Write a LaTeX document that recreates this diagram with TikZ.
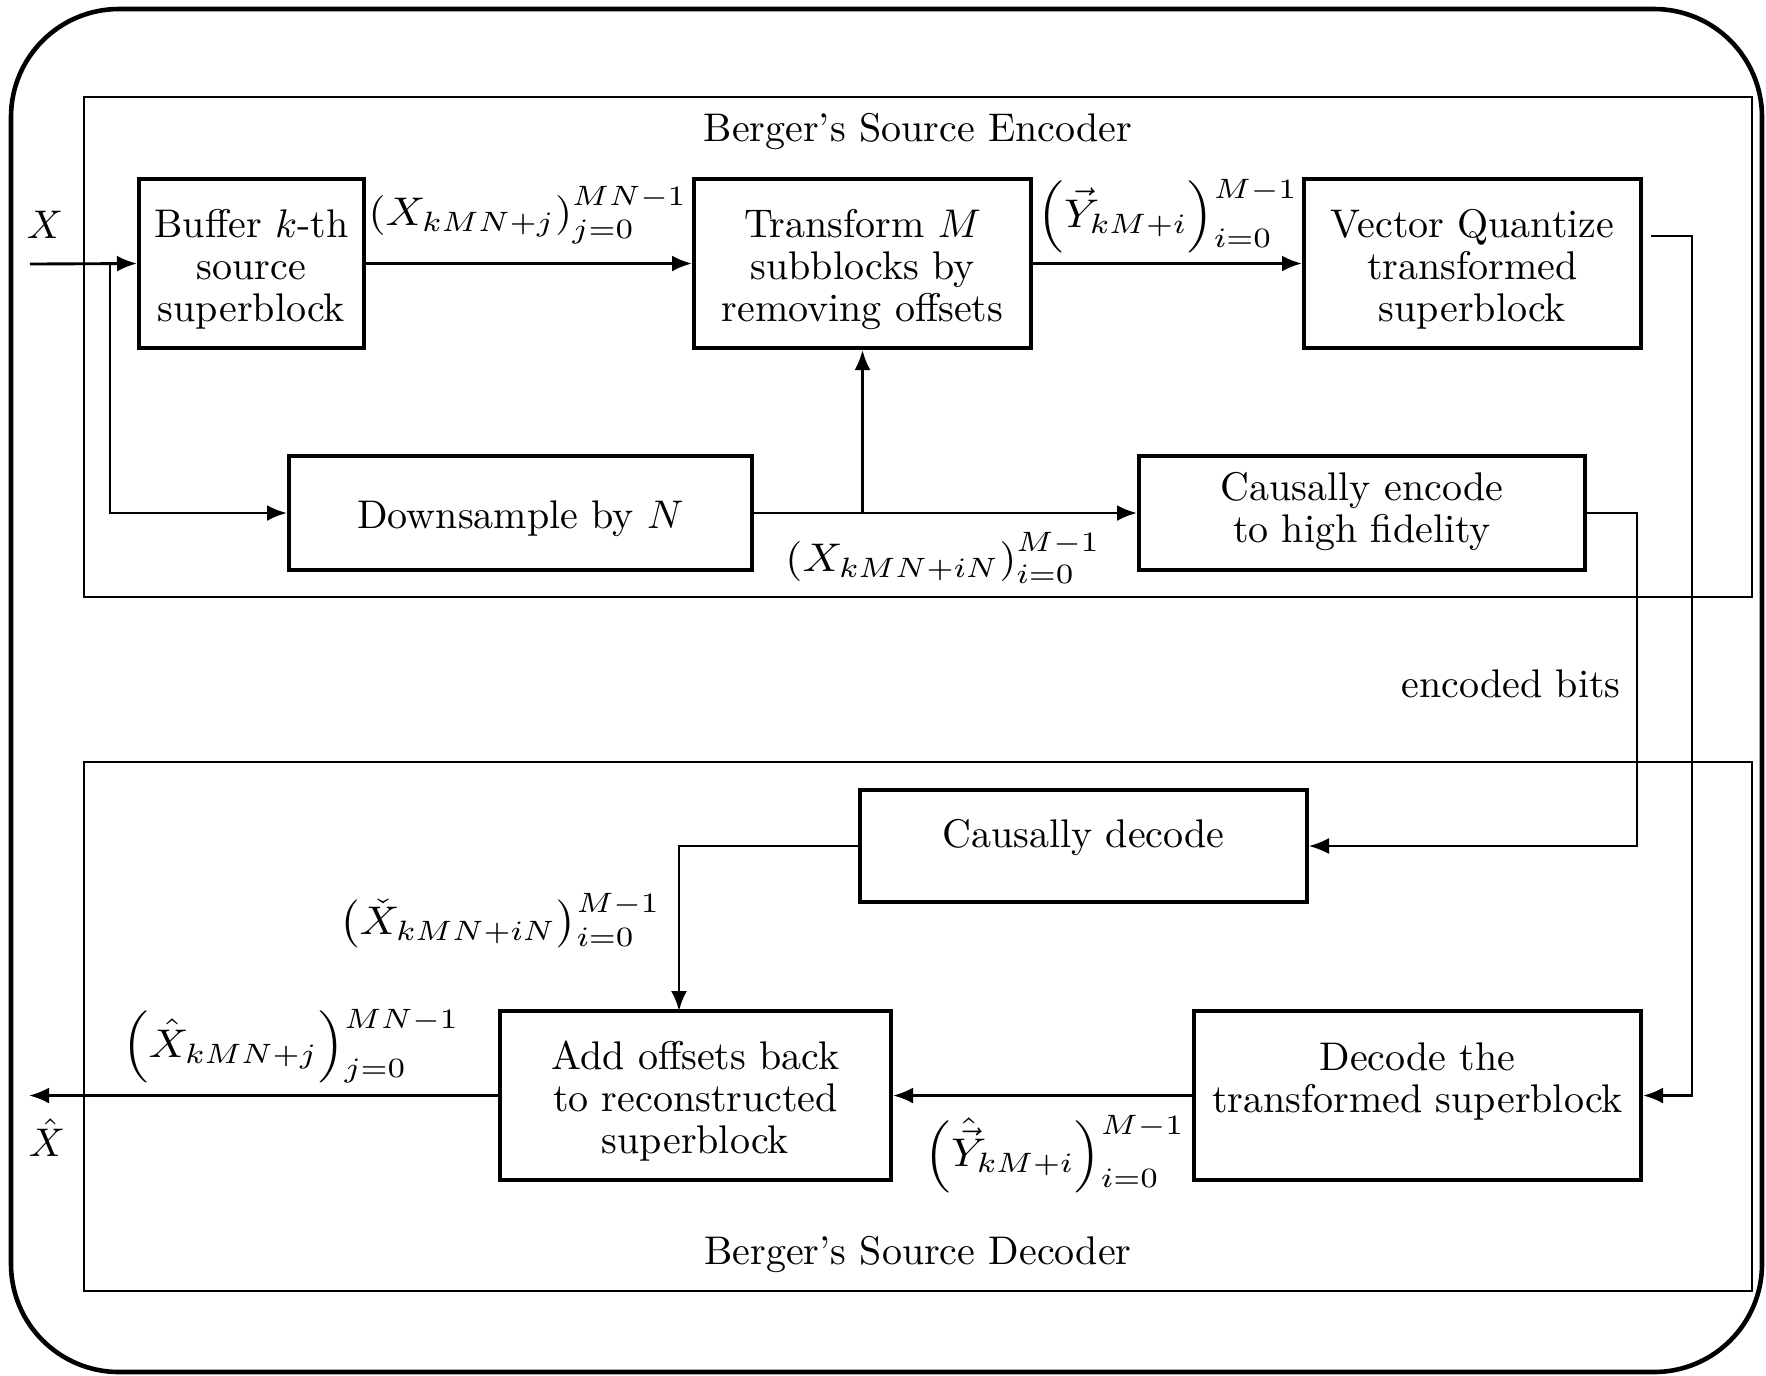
\documentclass[tikz,border=0pt]{standalone}
\usepackage{amsmath}
\usepackage{graphicx}
\usetikzlibrary{arrows.meta}
\newcommand\bxt[2]{\raisebox{#1}[\height][\depth]{\begin{tabular}{@{}c@{}}#2\end{tabular}}}
\newcommand\wlab[1]{\scalebox{1.1}[1]{#1}}
\begin{document}
\begin{tikzpicture}[x=0.25pt,y=-0.25pt,
  blk/.style={draw,line width=1pt,inner sep=0pt,font=\fontsize{10}{10.5}\selectfont},
  cont/.style={draw,line width=0.72pt,inner sep=0pt},
  frm/.style={draw,line width=1.15pt,rounded corners=27pt,inner sep=0pt},
  arr/.style={line width=0.72pt,-{Latex[length=5pt,width=4pt]}},
  thinarr/.style={line width=0.45pt,-{Latex[length=5pt,width=4pt]}},
  lab/.style={inner sep=0pt,font=\fontsize{10}{12}\selectfont}]
\useasboundingbox (0,0) rectangle (1766,1375);

% outer frame and containers
\node[frm,minimum width=437.75pt,minimum height=340.75pt] (frame) at (886.5,690.5) {};
\node[cont,minimum width=417pt,minimum height=125pt] (enc) at (918,347) {};
\node[cont,minimum width=417pt,minimum height=132.25pt] (dec) at (918,1026.5) {};
\node[lab] (enct) at (918,132) {Berger's Source Encoder};
\node[lab] (dect) at (918,1254) {Berger's Source Decoder};

% encoder blocks
\node[blk,minimum width=56.25pt,minimum height=42.25pt] (buf) at (251.5,263.5) {\bxt{-2pt}{Buffer $k$-th\\source\\superblock}};
\node[blk,minimum width=84.25pt,minimum height=42.25pt] (tr) at (862.5,263.5) {\bxt{-2pt}{Transform $M$\\subblocks by\\removing offsets}};
\node[blk,minimum width=84.25pt,minimum height=42.25pt] (vq) at (1472.5,263.5) {\bxt{-2pt}{Vector Quantize\\transformed\\superblock}};
\node[blk,minimum width=115.75pt,minimum height=28.5pt] (ds) at (520.5,513) {\bxt{-1.7pt}{Downsample by $N$}};
\node[blk,minimum width=111.5pt,minimum height=28.5pt] (ce) at (1362,513) {\bxt{0pt}{Causally encode\\to high fidelity}};

% decoder blocks
\node[blk,minimum width=111.75pt,minimum height=28pt] (cd) at (1083.5,846) {\bxt{1.8pt}{Causally decode}};
\node[blk,minimum width=97.75pt,minimum height=42.25pt] (ao) at (695.5,1095.5) {\bxt{-2pt}{Add offsets back\\to reconstructed\\superblock}};
\node[blk,minimum width=111.75pt,minimum height=42.25pt] (dt) at (1417.5,1095.5) {\bxt{-2.2pt}{Decode the\\transformed superblock\\\mbox{}}};

% coordinates
\coordinate (xin) at (30,264);
\coordinate (br) at (110,264);
\coordinate (vqo) at (1651,236);
\coordinate (vqx) at (1692,236);
\coordinate (cex) at (1637,684);
\coordinate (aot) at (679,1011);
\coordinate (xout) at (29,1095.5);
\coordinate (jn) at (862.5,513);

% labels
\node[lab] (lx) at (45,225) {$X$};
\node[lab] (lxh) at (47,1138) {$\hat{X}$};
\node[lab] (l1) at (528,215) {\wlab{$\left(X_{kMN+j}\right)_{j=0}^{MN-1}$}};
\node[lab] (l2) at (1168,217) {\wlab{$\left(\vec{Y}_{kM+i}\right)^{\raisebox{-1.8pt}{$\scriptstyle M-1$}}_{\raisebox{1.8pt}{$\scriptstyle i=0$}}$}};
\node[lab] (l3) at (943,558) {\wlab{$\left(X_{kMN+iN}\right)_{i=0}^{M-1}$}};
\node[lab] (l4) at (1511,684) {encoded bits};
\node[lab] (l5) at (500,922) {\wlab{$\left(\check{X}_{kMN+iN}\right)^{\raisebox{-1pt}{$\scriptstyle M-1$}}_{\raisebox{1pt}{$\scriptstyle i=0$}}$}};
\node[lab] (l6) at (291,1047) {\wlab{$\left(\hat{X}_{kMN+j}\right)^{\raisebox{-1.8pt}{$\scriptstyle MN-1$}}_{\raisebox{1.8pt}{$\scriptstyle j=0$}}$}};
\node[lab] (l7) at (1055,1155) {\wlab{$\left(\hat{\vec{Y}}_{kM+i}\right)^{\raisebox{-1.8pt}{$\scriptstyle M-1$}}_{\raisebox{1.8pt}{$\scriptstyle i=0$}}$}};

% connectors
\draw[arr] (xin) -- (buf.west);
\draw[arr] (br) |- (ds.west);
\draw[arr] (buf.east) -- (tr.west);
\draw[arr] (tr.east) -- (vq.west);
\draw[arr] (ds.east) -- (ce.west);
\draw[arr] (jn) -- (tr.south);
\draw[arr] (vqo) -- (vqx) |- (dt.east);
\draw[thinarr] (ce.east) -| (cex) |- (cd.east);
\draw[arr] (cd.west) -| (aot);
\draw[arr] (dt.west) -- (ao.east);
\draw[arr] (ao.west) -- (xout);
\end{tikzpicture}
\end{document}
